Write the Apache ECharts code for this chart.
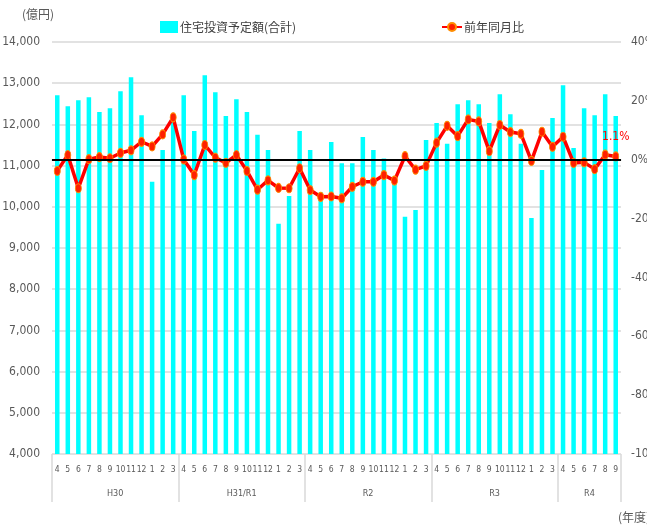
<!DOCTYPE html>
<html>
<head>
<meta charset="utf-8">
<script src="https://cdn.jsdelivr.net/npm/echarts@6/dist/echarts.min.js"></script>
<style>
html,body{margin:0;padding:0;background:#fff;}
#c{width:647px;height:525px;}
</style>
</head>
<body>
<div id="c"></div>
<script>
// ---- data ----
const monthLabels = [
  '4','5','6','7','8','9','10','11','12','1','2','3',
  '4','5','6','7','8','9','10','11','12','1','2','3',
  '4','5','6','7','8','9','10','11','12','1','2','3',
  '4','5','6','7','8','9','10','11','12','1','2','3',
  '4','5','6','7','8','9'
];
const groupNames = ['H30', 'H31/R1', 'R2', 'R3', 'R4'];
const groupSizes = [12, 12, 12, 12, 6];

const investment = [
  12709, 12443, 12588, 12661, 12298, 12395, 12806, 13145, 12225, 10610, 11378, 12190,
  12709, 11838, 13194, 12782, 12201, 12613, 12298, 11748, 11378, 9586, 10264, 11838,
  11378, 10346, 11571, 11055, 11055, 11692, 11378, 11175, 10580, 9756, 9925, 11620,
  12031, 11530, 12492, 12588, 12492, 12031, 12734, 12249, 11530, 9729, 10894, 12153,
  12952, 11427, 12395, 12225, 12734, 12201
];
const yoy = [
  -3.8, 1.6, -9.7, 0.2, 0.9, 0.5, 2.3, 3.2, 6.1, 4.5, 8.6, 14.4,
  0.1, -5.2, 5.0, 0.7, -1.1, 1.6, -3.8, -10.2, -7.0, -9.6, -9.7, -2.9,
  -10.3, -12.6, -12.5, -13.1, -9.2, -7.5, -7.5, -5.2, -7.1, 1.2, -3.4, -2.1,
  5.8, 11.5, 8.0, 13.7, 13.0, 2.9, 11.8, 9.4, 8.8, -0.4, 9.5, 4.4,
  7.8, -1.1, -0.9, -3.2, 1.7, 1.1
];
const leftTicks = {min: 4000, max: 14000, interval: 1000};
const rightTicks = {min: -100, max: 40, interval: 20};

// ---- derived ----
const boundaries = [0];
const centers = [];
groupSizes.forEach(s => {
  const start = boundaries[boundaries.length - 1];
  centers.push(start + s / 2);
  boundaries.push(start + s);
});
const total = boundaries[boundaries.length - 1];

const numFont = "'Liberation Sans Narrow', 'DejaVu Sans Condensed', sans-serif";
const jpFont = "'Noto Sans CJK JP', sans-serif";
const gray = '#595959';
const gridGray = '#d9d9d9';

const lineData = yoy.map((v, i) => {
  if (i === yoy.length - 1) {
    return {value: v, label: {show: true, position: 'top', distance: 8,
      formatter: p => p.value.toFixed(1) + '%', color: '#ff0000',
      fontFamily: numFont, fontSize: 12}};
  }
  return v;
});

const chart = echarts.init(document.getElementById('c'), null, {renderer: 'canvas'});
chart.setOption({
  animation: false,
  backgroundColor: '#ffffff',
  grid: {left: 52, right: 26, top: 42, bottom: 71, containLabel: false, outerBoundsMode: 'none'},
  legend: [
    {
      data: [{name: '住宅投資予定額(合計)', icon: 'rect'}],
      left: 155, top: 16, itemWidth: 18, itemHeight: 12, itemGap: 4,
      textStyle: {fontFamily: jpFont, fontSize: 12, color: '#404040', padding: [0,0,0,-3]}
    },
    {
      data: ['前年同月比'],
      left: 436, top: 16, itemWidth: 20, itemHeight: 10,
      textStyle: {fontFamily: jpFont, fontSize: 12, color: '#404040', padding: [0,0,0,-3]}
    }
  ],
  xAxis: [
    {
      type: 'category',
      data: monthLabels,
      boundaryGap: true,
      axisLine: {lineStyle: {color: gridGray, width: 1.5}},
      axisTick: {show: false},
      axisLabel: {interval: 0, margin: 11, fontFamily: numFont, fontSize: 8.5, color: gray,
        hideOverlap: false}
    },
    {
      type: 'value',
      min: 0, max: total,
      position: 'bottom',
      axisLine: {show: false},
      splitLine: {show: false},
      axisTick: {show: true, customValues: boundaries, length: 48,
        lineStyle: {color: gridGray, width: 1.5}},
      axisLabel: {
        customValues: centers, margin: 35,
        fontFamily: numFont, fontSize: 9, color: gray,
        formatter: v => {
          const idx = centers.indexOf(v);
          return idx >= 0 ? groupNames[idx] : '';
        }
      }
    }
  ],
  yAxis: [
    {
      type: 'value',
      min: leftTicks.min, max: leftTicks.max, interval: leftTicks.interval,
      name: '(億円)', nameLocation: 'end', nameGap: 22,
      nameTextStyle: {fontFamily: jpFont, fontSize: 12, color: gray, align: 'right', padding: [0, -2, 0, 0]},
      axisLine: {show: false},
      axisTick: {show: false},
      splitLine: {lineStyle: {color: gridGray, width: 1.5}},
      axisLabel: {margin: 12, fontFamily: numFont, fontSize: 12, color: gray,
        formatter: v => v.toLocaleString('en-US')}
    },
    {
      type: 'value',
      min: rightTicks.min, max: rightTicks.max, interval: rightTicks.interval,
      position: 'right',
      axisLine: {show: false},
      axisTick: {show: false},
      splitLine: {show: false},
      axisLabel: {margin: 10, fontFamily: numFont, fontSize: 12, color: gray,
        formatter: v => v + '%'}
    }
  ],
  series: [
    {
      name: '住宅投資予定額(合計)',
      type: 'bar',
      data: investment,
      barWidth: 4.5,
      itemStyle: {color: '#00ffff'},
      z: 1
    },
    {
      name: '前年同月比',
      type: 'line',
      yAxisIndex: 1,
      data: lineData,
      symbol: 'circle',
      symbolSize: [6, 9],
      showSymbol: true,
      lineStyle: {color: '#ff0000', width: 3.5},
      itemStyle: {color: '#ff2000', borderColor: '#ff8c00', borderWidth: 1},
      markLine: {
        silent: true,
        symbol: ['none', 'none'],
        label: {show: false},
        lineStyle: {color: '#000000', width: 2, type: 'solid'},
        data: [{yAxis: 0}]
      },
      z: 3
    }
  ],
  graphic: [
    {type: 'text', left: 618, top: 511,
      style: {text: '(年度)', font: "12px 'Noto Sans CJK JP', sans-serif", fill: gray}}
  ]
});
</script>
</body>
</html>
